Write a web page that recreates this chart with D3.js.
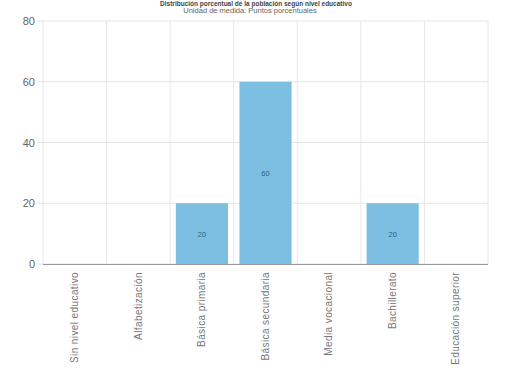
<!DOCTYPE html>
<html><head><meta charset="utf-8">
<script src="https://cdn.jsdelivr.net/npm/d3@7"></script>
<style>body{margin:0;background:#fff;} svg{display:block;font-family:"Liberation Sans",Arial,sans-serif;}</style>
</head><body>
<svg id="chart" width="513" height="370"></svg>
<script>
const categories = ["Sin nivel educativo","Alfabetización","Básica primaria","Básica secundaria","Media vocacional","Bachillerato","Educación superior"];
const values = [0,0,20,60,0,20,0];
const yTicks = [0,20,40,60,80];
const titleText = "Distribución porcentual de la población según nivel educativo";
const subtitleText = "Unidad de medida: Puntos porcentuales";

const svg = d3.select("#chart");
const m = {left:43, right:25, top:21, bottom:106};
const W = 513, H = 370;
const x = d3.scaleBand().domain(categories).range([m.left, W - m.right]).paddingInner(0.18).paddingOuter(0.09);
const y = d3.scaleLinear().domain([0,80]).range([H - m.bottom, m.top]);

// title and subtitle
svg.append("text").attr("x", 256).attr("y", 6).attr("text-anchor","middle")
  .attr("font-size", 6.5).attr("font-weight","bold").attr("fill","#444").text(titleText);
svg.append("text").attr("x", 250).attr("y", 13).attr("text-anchor","middle")
  .attr("font-size", 7.5).attr("fill","#666").text(subtitleText);

// horizontal gridlines
svg.append("g").selectAll("line").data(yTicks).join("line")
  .attr("x1", m.left - 6).attr("x2", W - m.right)
  .attr("y1", d => y(d)).attr("y2", d => y(d))
  .attr("stroke", "#e4e4e4").attr("stroke-width", 1);

// vertical gridlines at category boundaries
const bounds = d3.range(categories.length + 1).map(i => m.left + i * (W - m.left - m.right) / categories.length);
svg.append("g").selectAll("line").data(bounds).join("line")
  .attr("x1", d => d).attr("x2", d => d)
  .attr("y1", m.top).attr("y2", H - m.bottom)
  .attr("stroke", "#e8e8e8").attr("stroke-width", 1);

// y axis labels
const yAxis = d3.axisLeft(y).tickValues(yTicks).tickSize(0).tickPadding(8);
const ya = svg.append("g").attr("transform", `translate(${m.left},0)`).call(yAxis);
ya.select(".domain").remove();
ya.selectAll("text").attr("font-size", 11).attr("fill", "#666").attr("font-family","'Liberation Sans',Arial,sans-serif");

// bars
svg.append("g").selectAll("rect").data(values).join("rect")
  .attr("x", (d,i) => x(categories[i]))
  .attr("width", x.bandwidth())
  .attr("y", d => y(d))
  .attr("height", d => y(0) - y(d))
  .attr("fill", "#7cbfe2");

// value labels
svg.append("g").selectAll("text").data(values.map((v,i)=>({v,i})).filter(d => d.v > 0)).join("text")
  .attr("x", d => x(categories[d.i]) + x.bandwidth()/2)
  .attr("y", d => (y(d.v) + y(0))/2 + 3)
  .attr("text-anchor","middle").attr("font-size", 7.5).attr("fill", "#2f5f80")
  .text(d => d.v);

// x axis
const xAxis = d3.axisBottom(x).tickSize(0).tickPadding(6);
const xa = svg.append("g").attr("transform", `translate(0,${y(0)})`).call(xAxis);
xa.select(".domain").attr("stroke", "#999").attr("d", `M${m.left},0.5H${W - m.right}`);
xa.selectAll(".tick text")
  .attr("transform", "rotate(-90)")
  .attr("x", -8).attr("y", 0).attr("dy", "0.32em")
  .attr("text-anchor", "end")
  .attr("font-size", 10).attr("letter-spacing", 0.4).attr("fill", "#777").attr("font-family","'Liberation Sans',Arial,sans-serif");
</script>
</body></html>
